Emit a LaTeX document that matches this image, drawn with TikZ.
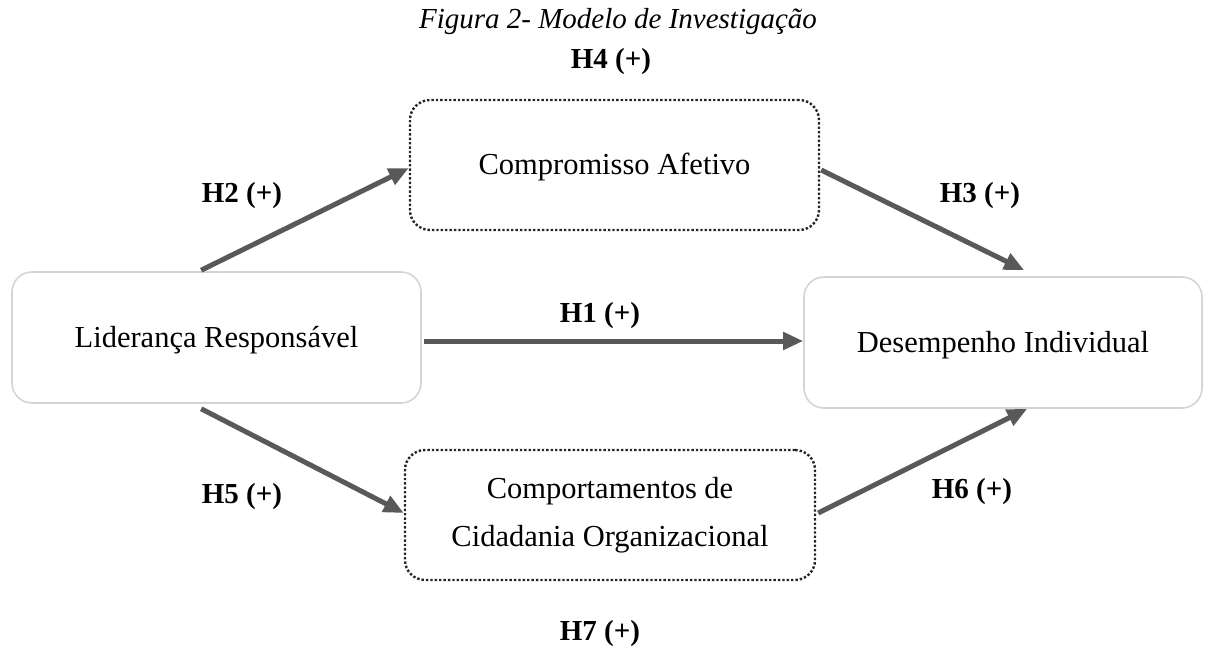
\documentclass[tikz,border=0pt]{standalone}
\usepackage{fontspec}
\setmainfont{Liberation Serif}
\usetikzlibrary{arrows.meta,calc}
\definecolor{arrowgray}{HTML}{595959}
\definecolor{boxgray}{HTML}{D4D4D4}
\tikzset{
  boxtext/.style={font=\fontsize{30.5}{36}\selectfont,align=center,inner sep=0pt,rounded corners=20pt},
  solidbox/.style={boxtext,draw=boxgray,line width=1.6pt},
  dotbox/.style={boxtext,draw=black!85,dotted,line width=2.4pt},
  oneline/.style={text height=19pt,text depth=-8pt},
  hyp/.style={font=\bfseries\fontsize{29}{35}\selectfont,inner sep=0pt},
  link/.style={draw=arrowgray,line width=5pt,-{Triangle[length=20pt,width=17pt]}}
}
\begin{document}
\begin{tikzpicture}[x=1pt,y=-1pt]
\useasboundingbox (0,0) rectangle (1205,648);
\node[font=\itshape\fontsize{29}{35}\selectfont,inner sep=0pt] (title) at (618,22) {Figura 2- Modelo de Investigação};
\node[hyp] (h4) at (611,62) {H4 (+)};
\node[solidbox,oneline,minimum width=409pt,minimum height=131pt] (lid) at (216.5,337.5) {Liderança Responsável};
\node[dotbox,oneline,minimum width=409pt,minimum height=130pt] (comp) at (614.5,165) {Compromisso Afetivo};
\node[solidbox,oneline,minimum width=398pt,minimum height=131pt] (des) at (1003,342.5) {Desempenho Individual};
\node[dotbox,minimum width=410pt,minimum height=130pt,font=\fontsize{30.5}{48}\selectfont] (cci) at (610,515) {Comportamentos de\\Cidadania Organizacional};
\node[hyp] (h2) at (242,196) {H2 (+)};
\node[hyp] (h3) at (980,196) {H3 (+)};
\node[hyp] (h1) at (600,316) {H1 (+)};
\node[hyp] (h5) at (242,497) {H5 (+)};
\node[hyp] (h6) at (972,492) {H6 (+)};
\node[hyp] (h7) at (600,634) {H7 (+)};
\draw[link] ($(lid.north west)+(190,-1)$) -- ($(comp.west)+(0,3)$);
\draw[link] ($(comp.east)+(1,5)$) -- ($(des.north west)+(221,-6)$);
\draw[link] ($(lid.east)+(2,3.5)$) -- ($(des.west)+(0,-1.5)$);
\draw[link] ($(lid.south west)+(190,5)$) -- ($(cci.west)+(0,-2)$);
\draw[link] ($(cci.east)+(2,-2)$) -- ($(des.south west)+(224,0)$);
\end{tikzpicture}
\end{document}
